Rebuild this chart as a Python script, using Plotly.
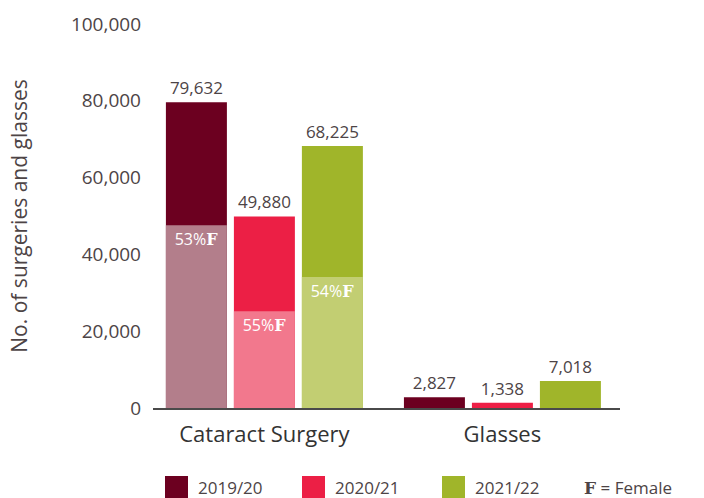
"""Cataract surgeries and glasses by year, with female share."""
import plotly.graph_objects as go

categories = ["Cataract Surgery", "Glasses"]
years = ["2019/20", "2020/21", "2021/22"]
totals = {
    "2019/20": [79632, 2827],
    "2020/21": [49880, 1338],
    "2021/22": [68225, 7018],
}
# female portion of cataract surgeries (as drawn), glasses not split
female = {
    "2019/20": [47600, None],
    "2020/21": [25200, None],
    "2021/22": [34100, None],
}
female_pct = {"2019/20": "53%", "2020/21": "55%", "2021/22": "54%"}

dark = {"2019/20": "#6c0020", "2020/21": "#ec1f45", "2021/22": "#a0b52a"}
light = {"2019/20": "#b37e8b", "2020/21": "#f2788d", "2021/22": "#c2ce72"}

W, H = 704, 498
L, R, T, B = 153, 84, 24, 90
TXT = "#4d4446"
FONT = "Open Sans"
SERIF_F = "<span style='font-family:DejaVu Serif;font-weight:bold'>F</span>"

fig = go.Figure()
for yr in years:
    fig.add_trace(go.Bar(
        x=categories, y=totals[yr], name=yr, offsetgroup=yr,
        marker=dict(color=dark[yr], line_width=0),
        text=[f"{v:,}" for v in totals[yr]], textposition="outside",
        textfont=dict(size=17, color=TXT, family=FONT),
        cliponaxis=False, showlegend=False, hoverinfo="skip",
    ))
    fig.add_trace(go.Bar(
        x=categories, y=female[yr], offsetgroup=yr,
        marker=dict(color=light[yr], line_width=0),
        text=[f"{female_pct[yr]}{SERIF_F}", ""],
        textposition="inside", insidetextanchor="end",
        textfont=dict(size=16, color="white", family=FONT),
        showlegend=False, hoverinfo="skip",
    ))


def px_x(p):
    return (p - L) / (W - L - R)


def px_y(p):
    return (H - B - p) / (H - T - B)


# custom legend at the bottom
shapes, annotations = [], []
for yr, x0 in zip(years, [165, 302, 442]):
    shapes.append(dict(type="rect", xref="paper", yref="paper",
                       x0=px_x(x0), x1=px_x(x0 + 23), y0=px_y(476), y1=px_y(499),
                       fillcolor=dark[yr], line_width=0))
    annotations.append(dict(x=px_x(x0 + 31), y=px_y(487), xref="paper", yref="paper",
                            text=yr, showarrow=False, xanchor="left", yanchor="middle",
                            font=dict(size=17, color=TXT, family=FONT)))
annotations.append(dict(x=px_x(582), y=px_y(487), xref="paper", yref="paper",
                        text=f"{SERIF_F} = Female", showarrow=False,
                        xanchor="left", yanchor="middle",
                        font=dict(size=17, color=TXT, family=FONT)))

fig.update_layout(
    width=W, height=H,
    margin=dict(l=L, r=R, t=T, b=B, autoexpand=False),
    barmode="group", bargap=0.143, bargroupgap=0.103,
    plot_bgcolor="white", paper_bgcolor="white",
    font=dict(family=FONT, color=TXT),
    shapes=shapes, annotations=annotations,
    xaxis=dict(
        range=[-0.468, 1.494], showgrid=False, zeroline=False,
        showline=True, linecolor="#4a4a4a", linewidth=1.5,
        ticks="", ticklabelstandoff=6, automargin=False,
        tickfont=dict(size=22, color="#333333", family=FONT),
    ),
    yaxis=dict(
        range=[0, 100000], dtick=20000, tickformat=",d",
        showgrid=False, zeroline=False, showline=False, ticks="",
        ticklabelstandoff=11, automargin=False,
        tickfont=dict(size=19, color=TXT, family=FONT),
        title=dict(text="No. of surgeries and glasses", standoff=37,
                   font=dict(size=21, color=TXT, family=FONT)),
    ),
)

# the page body has a default 8px margin; drop it so the figure fills the window
fig.write_html("out.html", config={"displayModeBar": False},
               post_script="document.body.style.margin='0';")
